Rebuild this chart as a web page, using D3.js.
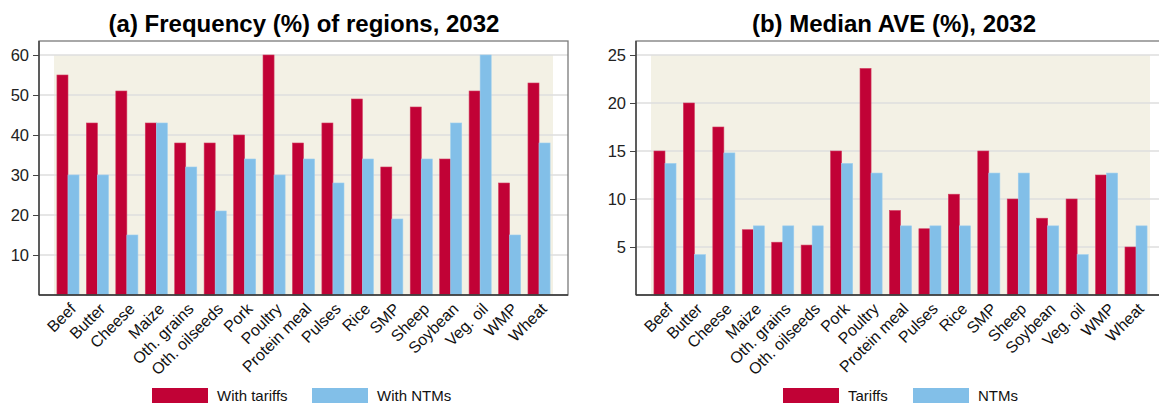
<!DOCTYPE html>
<html>
<head>
<meta charset="utf-8">
<script src="https://cdn.jsdelivr.net/npm/d3@7"></script>
<style>
  html, body { margin: 0; padding: 0; background: #fff; }
  svg { display: block; font-family: "Liberation Sans", Arial, sans-serif; }
</style>
</head>
<body>
<svg id="chart" width="1159" height="405"></svg>
<script>
// Product categories shared by both panels
const categories = ["Beef", "Butter", "Cheese", "Maize", "Oth. grains", "Oth. oilseeds",
  "Pork", "Poultry", "Protein meal", "Pulses", "Rice", "SMP", "Sheep", "Soybean",
  "Veg. oil", "WMP", "Wheat"];

// (a) Frequency (%) of regions
const freqTariffs = [55, 43, 51, 43, 38, 38, 40, 60, 38, 43, 49, 32, 47, 34, 51, 28, 53];
const freqNTMs    = [30, 30, 15, 43, 32, 21, 34, 30, 34, 28, 34, 19, 34, 43, 60, 15, 38];
const freqTicks   = [10, 20, 30, 40, 50, 60];

// (b) Median AVE (%)
const aveTariffs = [15, 20, 17.5, 6.8, 5.5, 5.2, 15, 23.6, 8.8, 6.9, 10.5, 15, 10, 8, 10, 12.5, 5];
const aveNTMs    = [13.7, 4.2, 14.8, 7.2, 7.2, 7.2, 13.7, 12.7, 7.2, 7.2, 7.2, 12.7, 12.7, 7.2, 4.2, 12.7, 7.2];
const aveTicks   = [5, 10, 15, 20, 25];

const RED = "#C10236";
const BLUE = "#82BFE8";
const SHADE = "#F3F1E5";
const GRID = "#DEDEDE";

const svg = d3.select("#chart");

function panel(opts) {
  const { x0, title, titleX, yMax, ticks, s1, s2, names, legendX } = opts;
  const frame = { left: x0, right: x0 + 529, top: 41, bottom: 295 };
  const inner = { left: x0 + 15, right: x0 + 514 };

  const g = svg.append("g");

  const x = d3.scaleBand().domain(categories)
    .range([inner.left, inner.right]).paddingInner(0.25).paddingOuter(0.1);
  const xs = d3.scaleBand().domain([0, 1]).range([0, x.bandwidth()]);
  const y = d3.scaleLinear().domain([0, yMax]).range([frame.bottom, 55]);

  // plot background and shaded data area
  g.append("rect").attr("x", frame.left).attr("y", frame.top)
    .attr("width", frame.right - frame.left).attr("height", frame.bottom - frame.top)
    .attr("fill", "#fff");
  g.append("rect").attr("x", inner.left).attr("y", y(yMax))
    .attr("width", inner.right - inner.left).attr("height", y(0) - y(yMax))
    .attr("fill", SHADE);

  // horizontal grid lines
  g.append("g").selectAll("line").data(ticks).join("line")
    .attr("x1", frame.left).attr("x2", frame.right)
    .attr("y1", d => y(d)).attr("y2", d => y(d))
    .attr("stroke", GRID).attr("stroke-width", 1.5);

  // bars
  const groups = g.append("g").selectAll("g").data(categories).join("g")
    .attr("transform", d => `translate(${x(d)},0)`);
  groups.append("rect")
    .attr("x", xs(0)).attr("width", xs.bandwidth())
    .attr("y", (d, i) => y(s1[i])).attr("height", (d, i) => y(0) - y(s1[i]))
    .attr("fill", RED).attr("stroke", "#D23A5E").attr("stroke-width", 0.6);
  groups.append("rect")
    .attr("x", xs(1)).attr("width", xs.bandwidth())
    .attr("y", (d, i) => y(s2[i])).attr("height", (d, i) => y(0) - y(s2[i]))
    .attr("fill", BLUE).attr("stroke", "#9ACDEE").attr("stroke-width", 0.6);

  // frame
  g.append("rect").attr("x", frame.left).attr("y", frame.top)
    .attr("width", frame.right - frame.left).attr("height", frame.bottom - frame.top)
    .attr("fill", "none").attr("stroke", "#7A7A7A").attr("stroke-width", 1.3);

  // y axis
  const yAxis = d3.axisLeft(y).tickValues(ticks).tickSize(6).tickPadding(4).tickFormat(d3.format("d"));
  const ya = g.append("g").attr("transform", `translate(${frame.left},0)`).call(yAxis);
  ya.select(".domain").attr("d", `M0,${frame.top}V${frame.bottom}`).attr("stroke", "#444").attr("stroke-width", 1.5);
  ya.selectAll(".tick line").attr("stroke", "#444");
  ya.selectAll(".tick text").attr("font-size", 16.5).attr("fill", "#222")
    .attr("font-family", "Liberation Sans, Arial, sans-serif");

  // x axis baseline
  g.append("line").attr("x1", frame.left).attr("x2", frame.right)
    .attr("y1", frame.bottom).attr("y2", frame.bottom)
    .attr("stroke", "#333").attr("stroke-width", 1.5);

  // rotated category labels
  g.append("g").selectAll("text").data(categories).join("text")
    .attr("transform", d => `translate(${x(d) + x.bandwidth() / 2 + 1},${frame.bottom + 7}) rotate(-45)`)
    .attr("text-anchor", "end").attr("dy", "0.7em")
    .attr("font-size", 16).attr("fill", "#111")
    .text(d => d);

  // title
  g.append("text").attr("x", titleX).attr("y", 32)
    .attr("text-anchor", "middle").attr("font-size", 24).attr("font-weight", "bold")
    .attr("fill", "#000").text(title);

  // legend
  const lg = g.append("g");
  const items = [{ name: names[0], color: RED, off: 0 }, { name: names[1], color: BLUE, off: legendX[1] }];
  items.forEach(it => {
    lg.append("rect").attr("x", legendX[0] + it.off).attr("y", 388).attr("width", 56).attr("height", 15)
      .attr("fill", it.color);
    lg.append("text").attr("x", legendX[0] + it.off + 65).attr("y", 401)
      .attr("font-size", 15).attr("fill", "#111").text(it.name);
  });
}

panel({ x0: 39, title: "(a) Frequency (%) of regions, 2032", titleX: 304, yMax: 60, ticks: freqTicks,
  s1: freqTariffs, s2: freqNTMs, names: ["With tariffs", "With NTMs"], legendX: [152, 160] });
panel({ x0: 636, title: "(b) Median AVE (%), 2032", titleX: 894, yMax: 25, ticks: aveTicks,
  s1: aveTariffs, s2: aveNTMs, names: ["Tariffs", "NTMs"], legendX: [783, 130] });
</script>
</body>
</html>
